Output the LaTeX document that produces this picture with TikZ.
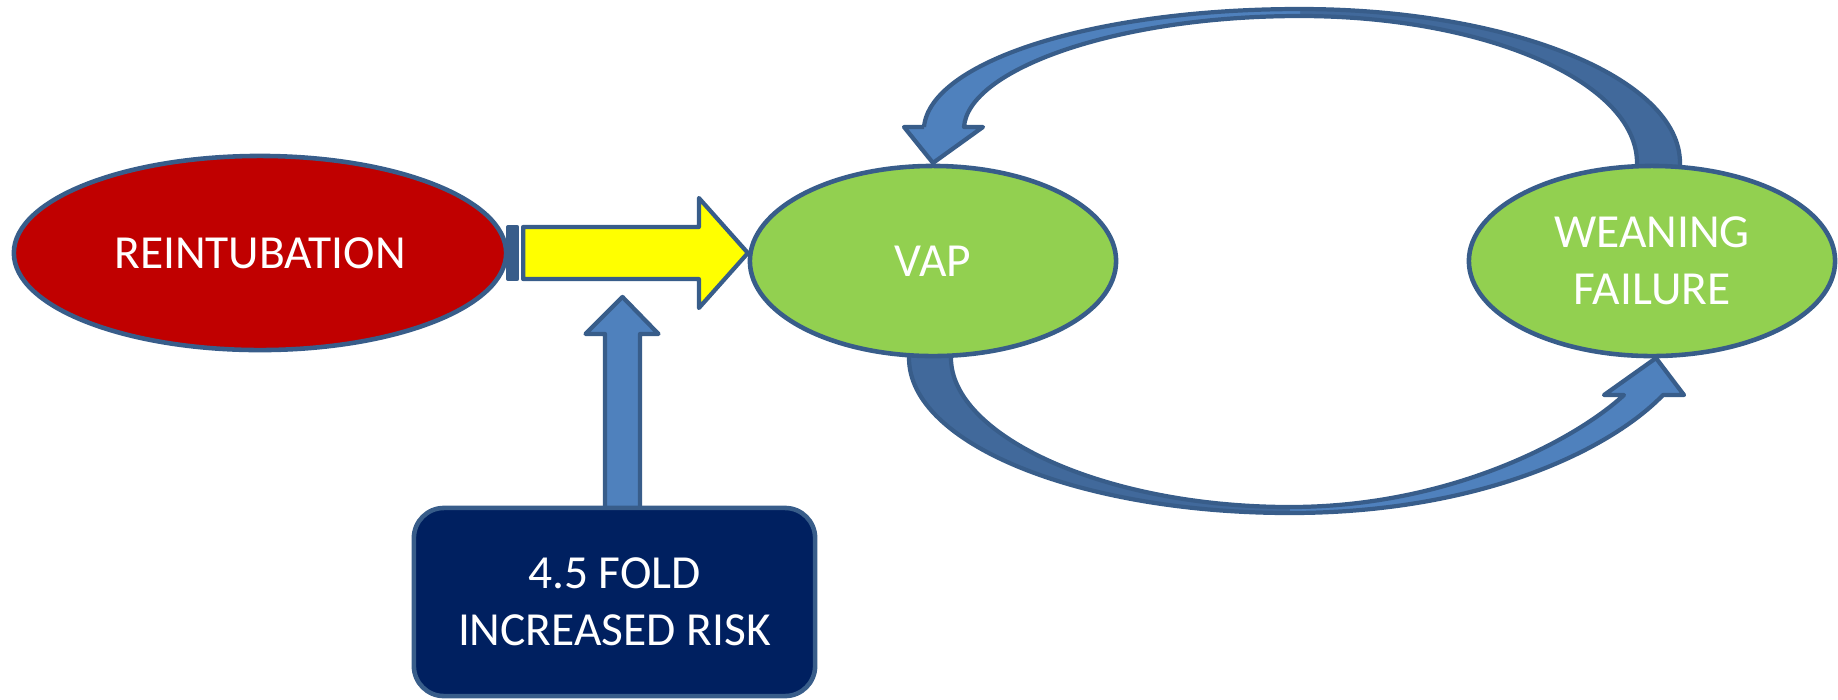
\documentclass[tikz,border=0pt]{standalone}
\usepackage{fontspec}
\setmainfont{Carlito}
\usetikzlibrary{shapes.geometric,calc,backgrounds}
\definecolor{bord}{HTML}{385D8A}
\definecolor{redf}{HTML}{C00000}
\definecolor{greenf}{HTML}{92D050}
\definecolor{yellowf}{HTML}{FFFF00}
\definecolor{lightb}{HTML}{4F81BD}
\definecolor{darkb}{HTML}{41699B}
\definecolor{navyf}{HTML}{002060}
\tikzset{
  ell/.style={ellipse, draw=bord, line width=1.3pt, inner sep=0pt, outer sep=0pt,
    text=white, align=center, font=\fontsize{13.5pt}{16.2pt}\selectfont},
  boxst/.style={rectangle, rounded corners=0.3cm, draw=bord, fill=navyf, line width=1.3pt,
    inner sep=0pt, outer sep=0pt, text=white, align=center, font=\fontsize{13.5pt}{16.2pt}\selectfont},
  arrowline/.style={draw=bord, line width=1.2pt, line join=round},
}
\begin{document}
\begin{tikzpicture}[x=0.01cm,y=-0.01cm]
\useasboundingbox (0,0) rectangle (1838,699);

\node[ell, fill=redf, minimum width=4.92cm, minimum height=1.94cm] (reint) at (260,253) {REINTUBATION};
\node[ell, fill=greenf, minimum width=3.66cm, minimum height=1.90cm] (vap) at (933,261) {VAP};
\node[ell, fill=greenf, minimum width=3.66cm, minimum height=1.90cm] (wean) at (1652,261) {WEANING\\FAILURE};
\node[boxst, minimum width=4.01cm, minimum height=1.88cm] (risk) at (614.5,602) {4.5 FOLD\\INCREASED RISK};

\begin{scope}[on background layer]
% top curved arrow: WEANING FAILURE -> VAP
\coordinate (ttip) at ($(vap.north)+(0,-3)$);
\coordinate (ttail) at (wean.north);
\fill[darkb] (1300,9) .. controls (1510,9) and (1680,78) .. (1680,163) -- (1680,175) -- (1637,175) -- (1637,163) .. controls (1637,82) and (1486,16) .. (1300,16) -- cycle;
\fill[lightb] (924,127) .. controls (930,62) and (1092,9) .. (1300,9) -- (1300,16) .. controls (1115,16) and (968,70) .. (964,127) -- cycle;
\fill[lightb] (904,127) -- (ttip) -- (983,127) -- cycle;
\draw[arrowline] (924,127) -- (904,127) -- (ttip) -- (983,127) -- (964,127) .. controls (968,70) and (1115,16) .. (1300,16) .. controls (1486,16) and (1637,82) .. (1637,163) -- (1637,175);
\draw[arrowline] (924,127) .. controls (930,62) and (1092,9) .. (1300,9) .. controls (1510,9) and (1680,78) .. (1680,163) -- (1680,175);

% bottom curved arrow: VAP -> WEANING FAILURE
\coordinate (btip) at ($(wean.south)+(4,2)$);
\coordinate (btail) at (vap.south);
\fill[darkb] (909,350) -- (909,358) .. controls (909,444) and (1080,513) .. (1290,513) -- (1290,507) .. controls (1103,507) and (951,435) .. (951,358) -- (951,350) -- cycle;
\fill[lightb] (1290,513) .. controls (1480,513) and (1610,450) .. (1663,395) -- (1684,395) -- (btip) -- (1604,395) -- (1624,395) .. controls (1575,440) and (1450,507) .. (1290,507) -- cycle;
\draw[arrowline] (909,350) -- (909,358) .. controls (909,444) and (1080,513) .. (1290,513) .. controls (1480,513) and (1610,450) .. (1663,395) -- (1684,395) -- (btip) -- (1604,395) -- (1624,395) .. controls (1575,440) and (1450,507) .. (1290,507) .. controls (1103,507) and (951,435) .. (951,358) -- (951,350);

% blue up arrow: box -> yellow arrow
\coordinate (ub) at ($(risk.north)+(8,0)$);
\filldraw[fill=lightb, arrowline] ($(ub)+(-17.5,4)$) -- ($(ub)+(-17.5,-174)$) -- ($(ub)+(-37,-174)$) -- ($(ub)+(0,-211)$) -- ($(ub)+(36,-174)$) -- ($(ub)+(17.5,-174)$) -- ($(ub)+(17.5,4)$) -- cycle;
\end{scope}

% yellow arrow: REINTUBATION -> VAP
\coordinate (yt) at (reint.east);
\coordinate (yp) at (vap.west |- reint.east);
\filldraw[fill=bord, arrowline] ($(yt)+(2,-26)$) rectangle ($(yt)+(11,26)$);
\filldraw[fill=yellowf, arrowline] ($(yt)+(17,-26)$) -- ($(yp)+(-51,-26)$) -- ($(yp)+(-51,-55)$) -- ($(yp)+(-2,0)$) -- ($(yp)+(-51,55)$) -- ($(yp)+(-51,26)$) -- ($(yt)+(17,26)$) -- cycle;

\end{tikzpicture}
\end{document}
